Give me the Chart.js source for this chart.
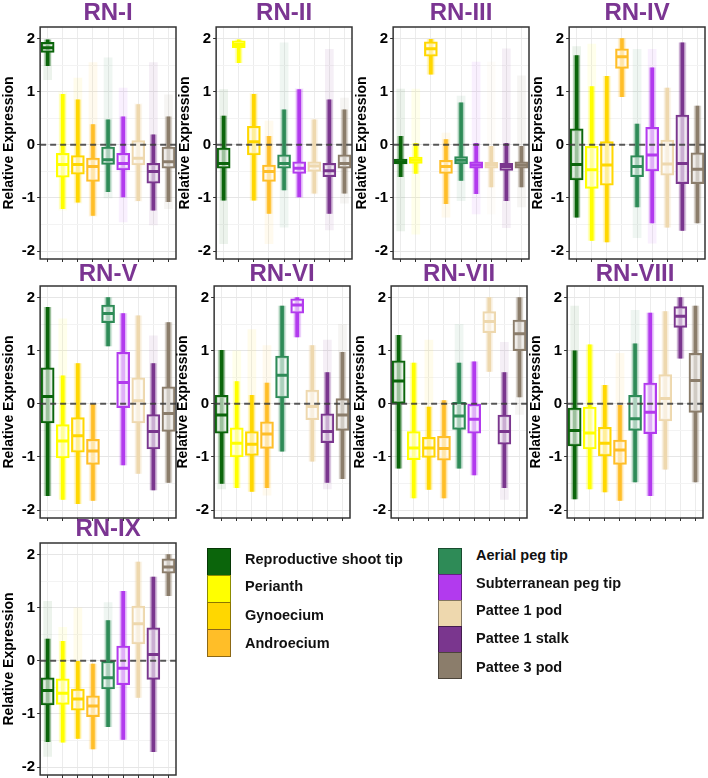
<!DOCTYPE html>
<html>
<head>
<meta charset="utf-8">
<script src="https://cdn.jsdelivr.net/npm/chart.js@4.4.1/dist/chart.umd.min.js"></script>
<style>
body { margin: 0; background: #fff; width: 708px; height: 778px; position: relative; overflow: hidden; font-family: Arial, "Liberation Sans", sans-serif; }
.panel { position: absolute; width: 178px; height: 270px; }
.sw { position: absolute; width: 24px; box-sizing: border-box; border: 1px solid rgba(0,0,0,0.45); }
.lab { position: absolute; font-weight: bold; font-size: 14.5px; color: #111; line-height: 16px; white-space: nowrap; }
</style>
</head>
<body>
<canvas id="p1" class="panel" width="178" height="270" style="left:0;top:0"></canvas>
<canvas id="p2" class="panel" width="178" height="270" style="left:176px;top:0"></canvas>
<canvas id="p3" class="panel" width="178" height="270" style="left:353px;top:0"></canvas>
<canvas id="p4" class="panel" width="178" height="270" style="left:529px;top:0"></canvas>
<canvas id="p5" class="panel" width="178" height="270" style="left:0;top:259px"></canvas>
<canvas id="p6" class="panel" width="178" height="270" style="left:174px;top:259px"></canvas>
<canvas id="p7" class="panel" width="178" height="270" style="left:351px;top:259px"></canvas>
<canvas id="p8" class="panel" width="178" height="270" style="left:527px;top:259px"></canvas>
<canvas id="p9" class="panel" width="178" height="270" style="left:0;top:516px"></canvas>
<div id="legend"></div>
<script>
// tissues (x categories) and their colours
const categories = ['Reproductive shoot tip', 'Perianth', 'Gynoecium', 'Androecium',
  'Aerial peg tip', 'Subterranean peg tip', 'Pattee 1 pod', 'Pattee 1 stalk', 'Pattee 3 pod'];
const colors = ['#0b650b', '#ffff00', '#ffd700', '#ffbe28', '#2e8b57', '#b23aee', '#eed8ae', '#7a368e', '#8b7d6b'];

const panelTitles = ['RN-I', 'RN-II', 'RN-III', 'RN-IV', 'RN-V', 'RN-VI', 'RN-VII', 'RN-VIII', 'RN-IX'];

// each row: [min point, lower whisker, q1, median, q3, upper whisker, max point]
const RN_I = [
  [1.23, 1.49, 1.74, 1.83, 1.93, 1.98, 1.98],
  [-1.23, -1.2, -0.61, -0.37, -0.16, 0.95, 1.0],
  [-1.1, -1.08, -0.55, -0.37, -0.2, 0.85, 1.26],
  [-1.35, -1.33, -0.69, -0.41, -0.25, 0.38, 1.55],
  [-1.0, -0.88, -0.37, -0.28, -0.04, 0.47, 1.64],
  [-1.45, -0.98, -0.47, -0.35, -0.16, 0.53, 1.07],
  [-1.07, -1.05, -0.38, -0.25, 0.08, 0.76, 0.78],
  [-1.51, -1.23, -0.72, -0.5, -0.35, 0.19, 1.55],
  [-1.2, -1.07, -0.44, -0.32, -0.04, 0.53, 0.94]
];
const RN_II = [
  [-1.86, -1.04, -0.44, -0.35, -0.06, 0.54, 1.04],
  [1.55, 1.55, 1.83, 1.89, 1.96, 1.98, 1.98],
  [-1.04, -1.04, -0.19, 0.06, 0.35, 0.95, 0.97],
  [-1.86, -1.29, -0.69, -0.5, -0.38, 0.16, 0.45],
  [-1.55, -0.85, -0.44, -0.35, -0.19, 0.66, 1.92],
  [-1.0, -0.98, -0.54, -0.44, -0.32, 1.04, 1.06],
  [-0.93, -0.91, -0.5, -0.4, -0.32, 0.47, 0.5],
  [-1.6, -1.29, -0.6, -0.49, -0.35, 0.85, 1.8],
  [-1.1, -0.91, -0.44, -0.35, -0.19, 0.66, 0.88]
];
const RN_III = [
  [-1.62, -0.6, -0.36, -0.32, -0.27, 0.16, 1.05],
  [-1.68, -0.54, -0.35, -0.29, -0.23, 0.03, 1.05],
  [1.33, 1.33, 1.67, 1.81, 1.94, 1.99, 1.99],
  [-1.36, -1.11, -0.54, -0.41, -0.29, 0.1, 0.22],
  [-1.05, -0.67, -0.36, -0.29, -0.22, 0.79, 0.92],
  [-1.3, -0.92, -0.44, -0.38, -0.32, 0.03, 1.56],
  [-1.3, -0.79, -0.44, -0.38, -0.33, -0.03, 1.56],
  [-1.56, -1.05, -0.48, -0.41, -0.35, 0.03, 1.81],
  [-1.17, -0.79, -0.44, -0.38, -0.32, -0.03, 1.3]
];
const RN_IV = [
  [-1.36, -1.36, -0.66, -0.37, 0.3, 1.68, 1.85],
  [-1.8, -1.8, -0.82, -0.47, -0.03, 1.1, 1.9],
  [-1.83, -1.83, -0.76, -0.38, 0.06, 1.29, 1.29],
  [0.91, 0.91, 1.44, 1.66, 1.81, 2.0, 2.0],
  [-1.75, -1.17, -0.6, -0.41, -0.2, 0.39, 1.8],
  [-1.85, -1.47, -0.49, -0.19, 0.33, 1.45, 1.8],
  [-1.55, -1.55, -0.57, -0.36, 0.09, 1.07, 1.07],
  [-1.61, -1.61, -0.73, -0.35, 0.56, 1.92, 1.92],
  [-1.47, -1.47, -0.73, -0.46, -0.15, 0.73, 0.73]
];
const RN_V = [
  [-1.73, -1.73, -0.36, 0.14, 0.68, 1.82, 1.82],
  [-1.8, -1.8, -1.02, -0.7, -0.39, 0.53, 1.6],
  [-1.88, -1.88, -0.91, -0.6, -0.26, 0.76, 0.76],
  [-1.82, -1.82, -1.14, -0.89, -0.67, 0.0, 0.0],
  [1.09, 1.09, 1.53, 1.7, 1.86, 2.0, 2.0],
  [-1.15, -1.15, -0.07, 0.4, 0.97, 1.7, 1.7],
  [-1.31, -1.31, -0.36, 0.06, 0.49, 1.66, 1.66],
  [-1.62, -1.62, -0.85, -0.52, -0.2, 0.76, 1.28],
  [-1.48, -1.48, -0.52, -0.18, 0.32, 1.53, 1.53]
];
const RN_VI = [
  [-1.6, -1.5, -0.55, -0.21, 0.16, 1.01, 1.01],
  [-1.58, -1.58, -1.0, -0.74, -0.45, 0.42, 1.0],
  [-1.65, -1.65, -0.97, -0.76, -0.52, 0.16, 1.4],
  [-1.72, -1.58, -0.84, -0.57, -0.34, 0.39, 1.1],
  [-0.89, -0.89, 0.11, 0.54, 0.9, 1.84, 1.84],
  [1.26, 1.26, 1.71, 1.86, 1.98, 2.0, 2.0],
  [-1.08, -1.08, -0.3, -0.05, 0.26, 1.1, 1.1],
  [-1.6, -1.48, -0.73, -0.52, -0.19, 0.59, 1.2],
  [-1.41, -1.41, -0.5, -0.21, 0.1, 0.97, 1.5]
];
const RN_VII = [
  [-1.21, -1.21, 0.0, 0.43, 0.81, 1.29, 1.29],
  [-1.77, -1.77, -1.05, -0.83, -0.52, 0.77, 0.77],
  [-1.61, -1.61, -1.01, -0.83, -0.63, -0.06, 1.2],
  [-1.77, -1.77, -1.06, -0.84, -0.61, 0.06, 0.06],
  [-1.21, -1.21, -0.48, -0.23, 0.03, 0.77, 1.5],
  [-1.34, -1.34, -0.55, -0.29, 0.0, 0.79, 0.79],
  [0.61, 0.61, 1.34, 1.55, 1.74, 2.0, 2.0],
  [-1.8, -1.58, -0.76, -0.52, -0.21, 0.59, 1.16],
  [-0.2, 0.13, 1.0, 1.32, 1.58, 2.0, 2.0]
];
const RN_VIII = [
  [-1.79, -1.79, -0.79, -0.5, -0.08, 1.0, 1.84],
  [-1.6, -1.6, -0.85, -0.55, -0.06, 1.11, 1.11],
  [-1.66, -1.66, -0.98, -0.74, -0.44, 0.35, 0.35],
  [-1.82, -1.82, -1.14, -0.87, -0.68, -0.03, 0.95],
  [-1.47, -1.47, -0.5, -0.28, 0.16, 1.13, 1.76],
  [-1.73, -1.73, -0.56, -0.16, 0.39, 1.71, 1.71],
  [-1.23, -1.23, -0.32, 0.1, 0.55, 1.74, 1.74],
  [0.86, 0.86, 1.44, 1.65, 1.83, 2.0, 2.0],
  [-1.47, -1.47, -0.16, 0.44, 0.95, 1.84, 1.84]
];
const RN_IX = [
  [-1.8, -1.52, -0.83, -0.56, -0.32, 0.41, 1.12],
  [-1.53, -1.53, -0.82, -0.61, -0.34, 0.37, 0.63],
  [-1.46, -1.46, -0.93, -0.72, -0.53, -0.01, 1.0],
  [-1.66, -1.66, -1.05, -0.85, -0.66, -0.06, -0.06],
  [-1.24, -1.24, -0.53, -0.32, -0.01, 0.76, 1.1],
  [-1.48, -1.48, -0.45, -0.14, 0.28, 1.31, 1.31],
  [-0.69, -0.69, 0.32, 0.7, 1.03, 1.86, 1.86],
  [-1.71, -1.71, -0.35, 0.12, 0.62, 1.58, 1.58],
  [1.23, 1.23, 1.65, 1.77, 1.92, 2.0, 2.0]
];

const yTicks = [-2, -1.5, -1, -0.5, 0, 0.5, 1, 1.5, 2];

function alpha(hex, a) {
  const n = parseInt(hex.slice(1), 16);
  return 'rgba(' + (n >> 16) + ',' + ((n >> 8) & 255) + ',' + (n & 255) + ',' + a + ')';
}

// frame round the plot area + dashed zero line on top of boxes
const framePlugin = {
  id: 'frame',
  afterDatasetsDraw(chart) {
    const ctx = chart.ctx, a = chart.chartArea;
    const y0 = chart.scales.y.getPixelForValue(0);
    ctx.save();
    ctx.strokeStyle = 'rgba(60,60,60,0.85)';
    ctx.lineWidth = 2;
    ctx.setLineDash([6, 4]);
    ctx.beginPath();
    ctx.moveTo(a.left, y0);
    ctx.lineTo(a.right, y0);
    ctx.stroke();
    ctx.setLineDash([]);
    ctx.strokeStyle = '#333';
    ctx.lineWidth = 1.5;
    ctx.strokeRect(a.left, a.top, a.right - a.left, a.bottom - a.top);
    ctx.restore();
  }
};

function makePanel(id, title, rows, titleTop) {
  const pick = i => rows.map(r => r[i]);
  const range = (i, j) => rows.map(r => [r[i], r[j]]);
  return new Chart(document.getElementById(id), {
    type: 'bar',
    data: {
      labels: categories,
      datasets: [
        { type: 'line', data: pick(3), showLine: false, pointStyle: 'line', pointRadius: 6,
          pointBorderWidth: 3, pointBorderColor: colors, pointBackgroundColor: colors },
        { data: range(2, 4), backgroundColor: 'rgba(255,255,255,0.6)', borderColor: colors,
          borderWidth: 2, borderSkipped: false, barThickness: 13, grouped: false },
        { data: range(1, 5), backgroundColor: colors, barThickness: 3, grouped: false },
        { data: range(1, 5), backgroundColor: colors.map(c => alpha(c, 0.35)), barThickness: 6, grouped: false },
        { data: range(0, 6), backgroundColor: colors.map(c => alpha(c, 0.08)), barThickness: 8, grouped: false }
      ]
    },
    options: {
      animation: false,
      responsive: false,
      layout: { autoPadding: false, padding: { left: 1, right: 2, top: 0, bottom: 0 } },
      plugins: {
        legend: { display: false },
        tooltip: { enabled: false },
        title: {
          display: true, text: title, fullSize: false, color: '#7b3592',
          font: { family: 'Arial', size: 24, weight: 'bold', lineHeight: 1 },
          padding: { top: titleTop, bottom: 3 - titleTop }
        }
      },
      scales: {
        x: {
          border: { display: false },
          ticks: { display: false },
          grid: { offset: false, color: '#ececec', tickColor: '#333', tickLength: 3 }
        },
        y: {
          min: -2.15, max: 2.22,
          afterBuildTicks: s => { s.ticks = yTicks.map(v => ({ value: v })); },
          border: { display: false },
          grid: {
            color: c => Number.isInteger(c.tick.value) ? '#e6e6e6' : '#f3f3f3',
            tickColor: c => Number.isInteger(c.tick.value) ? '#333' : 'rgba(0,0,0,0)',
            tickLength: 3
          },
          ticks: {
            callback: v => Number.isInteger(v) ? v : '',
            color: '#000', padding: 2,
            font: { family: 'Arial', size: 15, weight: 'bold' }
          },
          title: {
            display: true, text: 'Relative Expression', color: '#000', padding: { top: 0, bottom: 2 },
            font: { family: 'Arial', size: 14, weight: 'bold' }
          }
        }
      }
    },
    plugins: [framePlugin]
  });
}

const panelData = [RN_I, RN_II, RN_III, RN_IV, RN_V, RN_VI, RN_VII, RN_VIII, RN_IX];
panelData.forEach((rows, i) => makePanel('p' + (i + 1), panelTitles[i], rows, (i >= 4 && i <= 7) ? 3 : 1));

// legend: two columns of swatches
const legend = document.getElementById('legend');
const legendCols = [
  { x: 207, top: 548, h: 27, items: [0, 1, 2, 3], textY: [551, 578, 607, 635] },
  { x: 438, top: 548, h: 26, items: [4, 5, 6, 7, 8], textY: [547, 575, 602, 630, 659] }
];
legendCols.forEach(col => {
  col.items.forEach((k, j) => {
    const sw = document.createElement('div');
    sw.className = 'sw';
    sw.style.left = col.x + 'px';
    sw.style.top = (col.top + j * col.h) + 'px';
    sw.style.height = (col.h + 1) + 'px';
    sw.style.background = colors[k];
    legend.appendChild(sw);
    const lab = document.createElement('div');
    lab.className = 'lab';
    lab.style.left = (col.x + 38) + 'px';
    lab.style.top = col.textY[j] + 'px';
    lab.textContent = categories[k];
    legend.appendChild(lab);
  });
});
</script>
</body>
</html>
